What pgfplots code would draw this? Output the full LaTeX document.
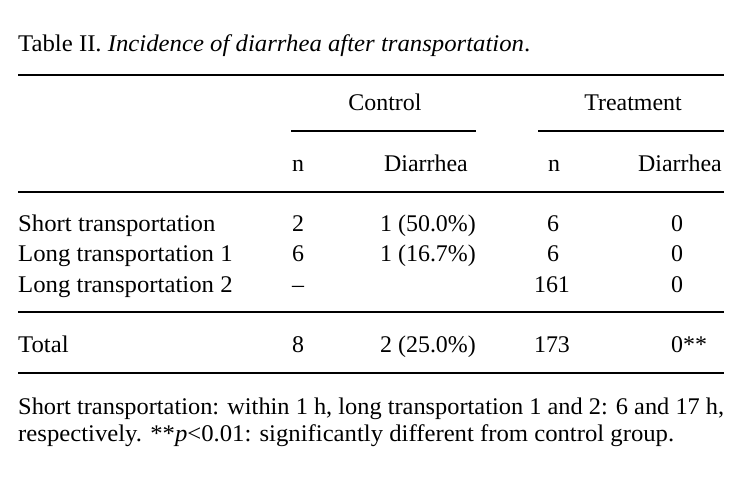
\documentclass[border=0pt]{standalone}
\usepackage{pgfplots}
\pgfplotsset{compat=1.18}
\usepackage{fontspec}
\setmainfont{Liberation Serif}
\tikzset{tx/.style={font=\fontsize{24}{28}\selectfont, inner sep=0pt}}
\newcommand{\widelab}[1]{\scalebox{1.035}[1]{#1}}
\begin{document}
\fontsize{24}{28}\selectfont
\begin{tikzpicture}
\begin{axis}[
  width=752bp, height=483bp, scale only axis,
  xmin=0, xmax=752, ymin=0, ymax=483, y dir=reverse,
  hide axis, clip=false,
]
\addplot[fill=white, draw=none] coordinates {(0,0)(752,0)(752,483)(0,483)} \closedcycle;
% rules
\addplot[black, line width=1.8bp] coordinates {(18,75)(724,75)};
\addplot[black, line width=1.8bp] coordinates {(291,131)(476,131)};
\addplot[black, line width=1.8bp] coordinates {(538,131)(724,131)};
\addplot[black, line width=1.8bp] coordinates {(18,192)(724,192)};
\addplot[black, line width=1.8bp] coordinates {(18,312)(724,312)};
\addplot[black, line width=1.8bp] coordinates {(18,373)(724,373)};
% title
\node[tx, anchor=base west] at (axis cs:18,52) {\resizebox{512bp}{\height}{Table II. \textit{Incidence of diarrhea after transportation}.}};
% headers
\node[tx, anchor=base] at (axis cs:385,110) {Control};
\node[tx, anchor=base] at (axis cs:633,110) {Treatment};
\node[tx, anchor=base west] at (axis cs:292,171) {n};
\node[tx, anchor=base] at (axis cs:426,171) {Diarrhea};
\node[tx, anchor=base] at (axis cs:554,171) {n};
\node[tx, anchor=base] at (axis cs:680,171) {Diarrhea};
% rows
\node[tx, anchor=base west] at (axis cs:18,231.5) {\widelab{Short transportation}};
\node[tx, anchor=base west] at (axis cs:18,261.7) {\widelab{Long transportation 1}};
\node[tx, anchor=base west] at (axis cs:18,292) {\widelab{Long transportation 2}};
\node[tx, anchor=base west] at (axis cs:18,352) {\widelab{Total}};
\node[tx, anchor=base west] at (axis cs:292,231.5) {2};
\node[tx, anchor=base west] at (axis cs:292,261.7) {6};
\node[tx, anchor=base west] at (axis cs:292,292) {–};
\node[tx, anchor=base west] at (axis cs:292,352) {8};
\node[tx, anchor=base west] at (axis cs:380,231.5) {1 (50.0\%)};
\node[tx, anchor=base west] at (axis cs:380,261.7) {1 (16.7\%)};
\node[tx, anchor=base west] at (axis cs:380,352) {2 (25.0\%)};
\node[tx, anchor=base] at (axis cs:553,231.5) {6};
\node[tx, anchor=base] at (axis cs:553,261.7) {6};
\node[tx, anchor=base] at (axis cs:552,292) {161};
\node[tx, anchor=base] at (axis cs:552,352) {173};
\node[tx, anchor=base west] at (axis cs:671,231.5) {0};
\node[tx, anchor=base west] at (axis cs:671,261.7) {0};
\node[tx, anchor=base west] at (axis cs:671,292) {0};
\node[tx, anchor=base west] at (axis cs:671,352) {0**};
% footnote
\node[tx, anchor=base west] at (axis cs:18,414) {\resizebox{706bp}{\height}{Short transportation: within 1 h, long transportation 1 and 2: 6 and 17 h,}};
\node[tx, anchor=base west] at (axis cs:18,441) {\resizebox{656bp}{\height}{respectively. **\textit{p}<0.01: significantly different from control group.}};
\end{axis}
\end{tikzpicture}
\end{document}
